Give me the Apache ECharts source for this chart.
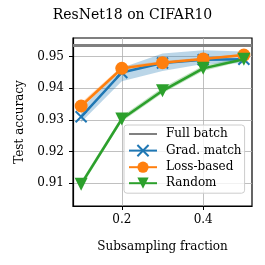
<!DOCTYPE html>
<html><head><meta charset="utf-8">
<script src="https://cdn.jsdelivr.net/npm/echarts@6/dist/echarts.min.js"></script>
<style>html,body{margin:0;padding:0;background:#fff}#c{width:265px;height:265px}</style>
</head><body><div id="c"></div>
<script>
const fractions = [0.1, 0.2, 0.3, 0.4, 0.5];
const fullBatch = 0.9535;
const gradMatch = [0.9310, 0.9450, 0.9480, 0.9490, 0.9492];
const gradLo = [0.9293, 0.9422, 0.9455, 0.9477, 0.9479];
const gradHi = [0.9335, 0.9465, 0.9510, 0.9520, 0.9516];
const lossBased = [0.9344, 0.9463, 0.9481, 0.9493, 0.9505];
const lossLo = [0.9338, 0.9457, 0.9477, 0.9489, 0.9501];
const lossHi = [0.9354, 0.9470, 0.9486, 0.9497, 0.9509];
const random = [0.9097, 0.9303, 0.9392, 0.9463, 0.9492];
const randLo = [0.9088, 0.9295, 0.9384, 0.9455, 0.9487];
const randHi = [0.9106, 0.9312, 0.9402, 0.9471, 0.9498];
const xTicks = [0.2, 0.4];
const yTicks = [0.91, 0.92, 0.93, 0.94, 0.95];
const seriesNames = ['Full batch', 'Grad. match', 'Loss-based', 'Random'];
const colors = { blue: '#1f77b4', orange: '#ff7f0e', green: '#2ca02c', gray: '#808080' };
const FONT = 'DejaVu Serif';

function band(lo, hi, color) {
  const data = fractions.map((x, i) => [x, lo[i], hi[i]]);
  return {
    type: 'custom', silent: true, z: 1,
    data: data,
    encode: { x: 0, y: [1, 2] },
    renderItem: function (params, api) {
      if (params.dataIndex !== 0) return null;
      const top = data.map(d => api.coord([d[0], d[2]]));
      const bot = data.map(d => api.coord([d[0], d[1]])).reverse();
      return { type: 'polygon', shape: { points: top.concat(bot) }, style: { fill: color, opacity: 0.3 } };
    }
  };
}
function pts(arr) { return fractions.map((x, i) => [x, arr[i]]); }

const chart = echarts.init(document.getElementById('c'), null, { renderer: 'canvas' });
chart.setOption({
  animation: false,
  textStyle: { fontFamily: FONT },
  title: { text: 'ResNet18 on CIFAR10', left: 'center', top: 3,
    textStyle: { fontFamily: FONT, fontSize: 14, fontWeight: 'normal', color: '#000' } },
  grid: { left: 73, right: 13, top: 38, bottom: 59, show: true, borderColor: '#000', borderWidth: 1.2,
    backgroundColor: 'transparent' },
  xAxis: {
    type: 'value', min: 0.08, max: 0.52,
    name: 'Subsampling fraction', nameLocation: 'middle', nameGap: 35,
    nameTextStyle: { fontFamily: FONT, fontSize: 12, color: '#000' },
    axisLine: { show: true, onZero: false, lineStyle: { color: '#000', width: 1.2 } },
    axisTick: { show: true, customValues: xTicks, length: 4, lineStyle: { color: '#000' } },
    axisLabel: { customValues: xTicks, fontFamily: FONT, fontSize: 12, color: '#000', margin: 8,
      formatter: v => v.toFixed(1) },
    splitLine: { show: true, lineStyle: { color: '#b0b0b0', width: 0.8 } }
  },
  yAxis: {
    type: 'value', min: 0.9028, max: 0.9559,
    name: 'Test accuracy', nameLocation: 'middle', nameGap: 47,
    nameTextStyle: { fontFamily: FONT, fontSize: 12, color: '#000' },
    axisLine: { show: true, onZero: false, lineStyle: { color: '#000', width: 1.2 } },
    axisTick: { show: true, customValues: yTicks, length: 4, lineStyle: { color: '#000' } },
    axisLabel: { customValues: yTicks, fontFamily: FONT, fontSize: 12, color: '#000', margin: 9,
      formatter: v => v.toFixed(2) },
    splitLine: { show: true, lineStyle: { color: '#b0b0b0', width: 0.8 } }
  },
  legend: {
    data: [
      { name: 'Full batch', itemStyle: { opacity: 0 } },
      'Grad. match', 'Loss-based', 'Random'
    ],
    orient: 'vertical', left: 124, top: 125,
    itemWidth: 28, itemHeight: 14, itemGap: 4,
    padding: [3, 3, 4, 4],
    backgroundColor: 'rgba(255,255,255,0.8)', borderColor: '#cccccc', borderWidth: 1, borderRadius: 3,
    textStyle: { fontFamily: FONT, fontSize: 12, color: '#000', padding: [0, 0, 0, 4] }
  },
  series: [
    band(gradLo, gradHi, colors.blue),
    band(lossLo, lossHi, colors.orange),
    band(randLo, randHi, colors.green),
    { name: 'Full batch', type: 'line', data: [[0.08, fullBatch], [0.52, fullBatch]], showSymbol: false,
      symbol: 'none', lineStyle: { color: colors.gray, width: 3 }, itemStyle: { color: colors.gray }, z: 3 },
    { name: 'Grad. match', type: 'line', data: pts(gradMatch), symbol: 'path://M0,0L10,10M10,0L0,10',
      symbolSize: 11, lineStyle: { color: colors.blue, width: 2.5 },
      itemStyle: { color: colors.blue, borderColor: colors.blue, borderWidth: 2 }, z: 4 },
    { name: 'Loss-based', type: 'line', data: pts(lossBased), symbol: 'circle', symbolSize: 13,
      lineStyle: { color: colors.orange, width: 2.5 }, itemStyle: { color: colors.orange }, z: 5 },
    { name: 'Random', type: 'line', data: pts(random), symbol: 'triangle', symbolRotate: 180, symbolSize: 13,
      lineStyle: { color: colors.green, width: 2.5 }, itemStyle: { color: colors.green }, z: 6 }
  ]
});
</script></body></html>
